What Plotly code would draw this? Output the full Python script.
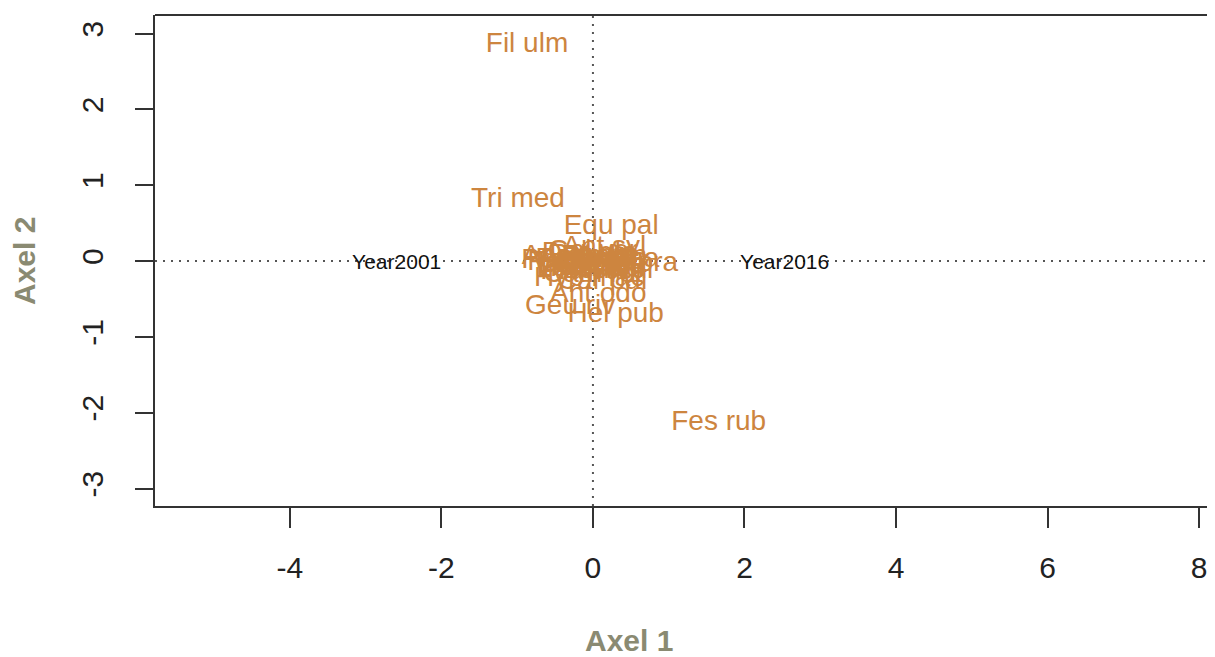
import plotly.graph_objects as go

# ---- data ----
species = ["Fil ulm", "Tri med", "Equ pal", "Fes rub",
           "Ant syl", "Lat pra", "Car pal", "Ant odo", "Geu riv", "Hel pub",
           "Fra ves", "Ach mil", "Alc vul", "Ane nem", "Cam rot", "Dac glo",
           "Gal bor", "Leo his", "Leu vul", "Luz mul", "Pla lan", "Poa pra",
           "Pot ere", "Pru vul", "Ran acr", "Rum ace", "Tri pra", "Vic cra",
           "Ver cha", "Hyp mac", "Gal ver"]
sp_x = [-0.87, -0.99, 0.24, 1.66,
        0.15, 0.55, 0.12, 0.07, -0.30, 0.30,
        -0.25, -0.10, 0.05, -0.20, 0.00, -0.05,
        0.10, -0.15, 0.20, -0.08, 0.15, -0.30,
        0.02, -0.12, 0.08, -0.02, 0.18, -0.22,
        0.25, -0.05, 0.00]
sp_y = [2.85, 0.80, 0.445, -2.14,
        0.17, -0.04, -0.27, -0.45, -0.61, -0.71,
        -0.03, 0.02, -0.08, 0.05, -0.18, 0.09,
        -0.01, -0.11, -0.13, -0.05, 0.05, 0.00,
        0.07, -0.15, -0.11, 0.01, -0.05, -0.09,
        0.02, -0.23, 0.12]

years = ["Year2001", "Year2016"]
yr_x = [-2.59, 2.53]
yr_y = [-0.03, -0.03]

x_ticks = [-4, -2, 0, 2, 4, 6, 8]
y_ticks = [-3, -2, -1, 0, 1, 2, 3]
x_range = [-5.78, 8.21]
y_range = [-3.23, 3.245]

SPECIES_COLOR = "#CD853F"
TITLE_COLOR = "#8a8a72"
FONT = "Liberation Sans, Arial, Helvetica, sans-serif"

# page body has an 8px margin; figure is sized so it fits the window
W, H = 1207, 649
ML, MR, MT, MB = 147, 0, 7, 151
PW, PH = W - ML - MR, H - MT - MB


def px_to_paper_x(page_x):
    return (page_x - 8 - ML) / PW


def px_to_paper_y(page_y):
    return (H - MB - (page_y - 8)) / PH


fig = go.Figure()

fig.add_trace(go.Scatter(
    x=yr_x, y=yr_y, text=years, mode="text",
    textposition="middle center",
    textfont=dict(family=FONT, size=21, color="#111111"),
    hoverinfo="skip", showlegend=False))

fig.add_trace(go.Scatter(
    x=sp_x, y=sp_y, text=species, mode="text",
    textposition="middle center",
    textfont=dict(family=FONT, size=28, color=SPECIES_COLOR),
    hoverinfo="skip", showlegend=False))

# dotted reference lines at 0
fig.add_shape(type="line", xref="x", yref="paper", x0=0, x1=0, y0=0, y1=1,
              line=dict(color="#555555", width=2, dash="2px,6px"), layer="below")
fig.add_shape(type="line", xref="paper", yref="y", x0=0, x1=1, y0=0, y1=0,
              line=dict(color="#555555", width=2, dash="2px,6px"), layer="below")
# top border of the box (right side is cut off in the reference)
fig.add_shape(type="line", xref="paper", yref="paper", x0=0, x1=1, y0=1, y1=1,
              line=dict(color="#333333", width=2))

fig.update_layout(
    width=W, height=H,
    margin=dict(l=ML, r=MR, t=MT, b=MB, autoexpand=False),
    paper_bgcolor="white", plot_bgcolor="white",
    font=dict(family=FONT, color="#222222"),
    xaxis=dict(range=x_range, tickvals=x_ticks, ticktext=[str(v) for v in x_ticks],
               showgrid=False, zeroline=False, showline=True, linecolor="#333333",
               linewidth=2, ticks="outside", ticklen=20, tickwidth=2,
               tickcolor="#333333", tickfont=dict(size=30, color="#222222"),
               ticklabelstandoff=14, automargin=False),
    yaxis=dict(range=y_range, tickvals=y_ticks, ticktext=[str(v) for v in y_ticks],
               showgrid=False, zeroline=False, showline=True, linecolor="#333333",
               linewidth=2, ticks="outside", ticklen=18, tickwidth=2,
               tickcolor="#333333", tickfont=dict(size=30, color="#222222"),
               tickangle=-90, ticklabelstandoff=20, automargin=False),
    annotations=[
        dict(text="<b>Axel 1</b>", x=px_to_paper_x(629), y=px_to_paper_y(640),
             xref="paper", yref="paper", showarrow=False,
             font=dict(size=30, color=TITLE_COLOR, family=FONT),
             xanchor="center", yanchor="middle"),
        dict(text="<b>Axel 2</b>", x=px_to_paper_x(25), y=px_to_paper_y(261),
             xref="paper", yref="paper", showarrow=False, textangle=-90,
             font=dict(size=30, color=TITLE_COLOR, family=FONT),
             xanchor="center", yanchor="middle"),
    ],
)

fig.write_html("out.html")
